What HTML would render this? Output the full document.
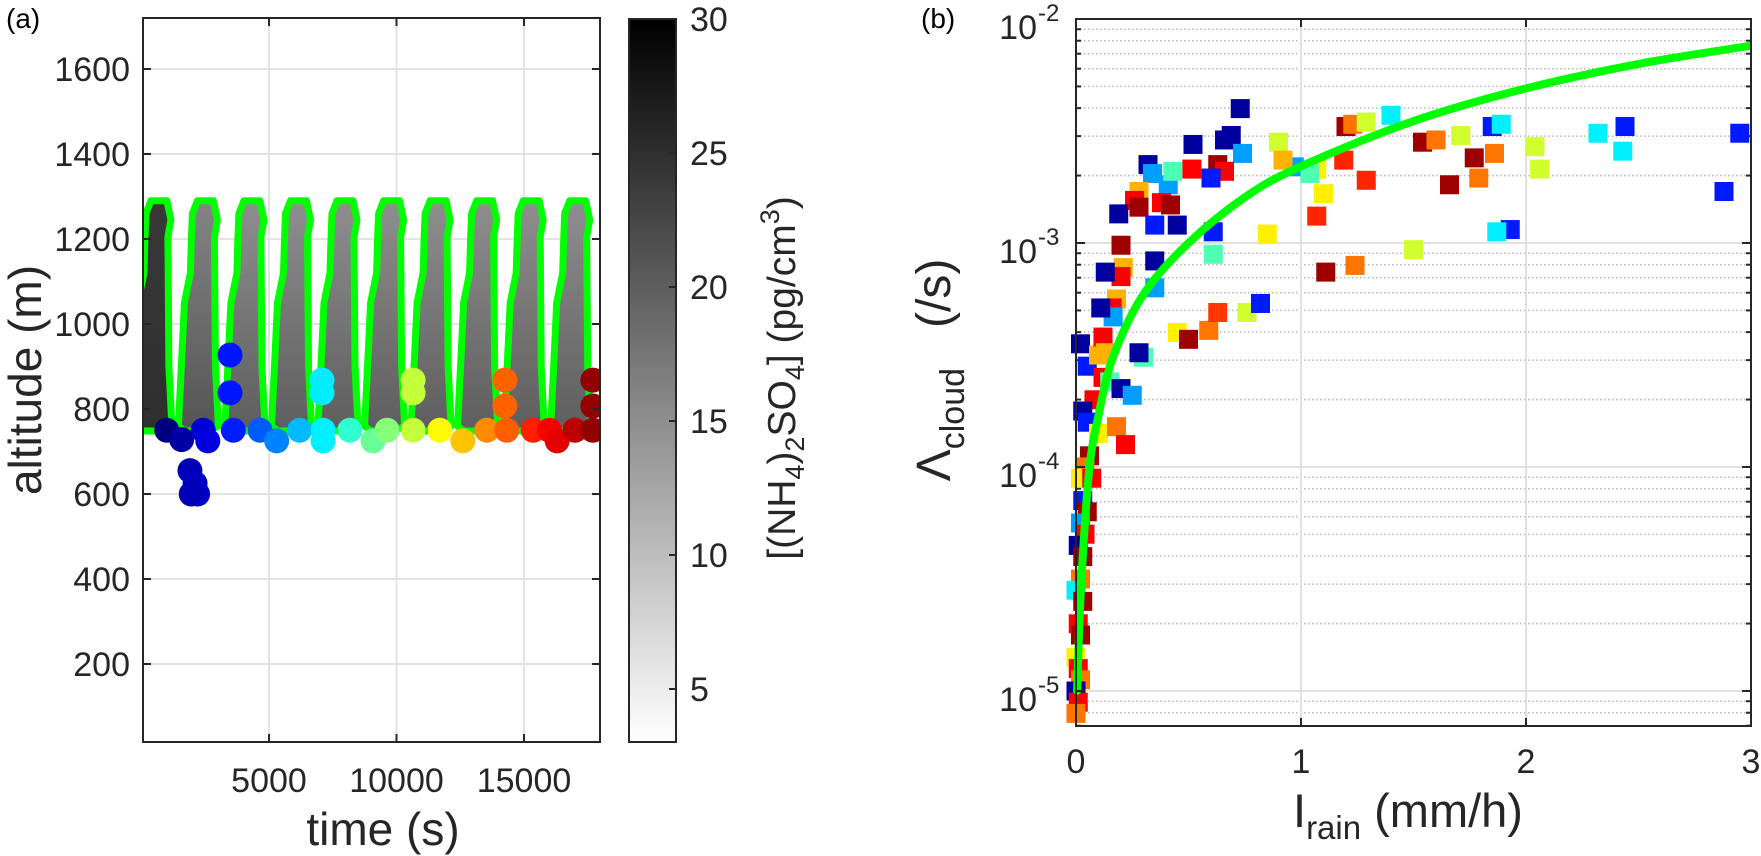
<!DOCTYPE html>
<html><head><meta charset="utf-8"><style>
html,body{margin:0;padding:0;background:#fff;}
svg{display:block;font-family:"Liberation Sans",Arial,sans-serif;}
</style></head><body>
<svg id="fig" width="1761" height="856" viewBox="0 0 1761 856" xmlns="http://www.w3.org/2000/svg">
<defs>
<clipPath id="clipA"><rect x="143" y="18" width="457" height="724"/></clipPath>
<clipPath id="clipB"><rect x="1066" y="19" width="685" height="717"/></clipPath>
<linearGradient id="cbGrad" x1="0" y1="1" x2="0" y2="0">
<stop offset="0" stop-color="#ffffff"/><stop offset="1" stop-color="#000000"/>
</linearGradient>
</defs>
<g id="layer"></g>
</svg>
<script>
// ---------- Panel (a) data ----------
const aXTicks = [5000, 10000, 15000];
const aYTicks = [200, 400, 600, 800, 1000, 1200, 1400, 1600];
const cycleStart = [250, 2075, 3900, 5725, 7550, 9375, 11200, 13025, 14850, 16675];
const cycleTopConc = [24, 16, 15, 15, 15, 15, 15, 15, 15, 15];
const cycleBotConc = [25, 21, 20, 20, 20, 20, 20, 20, 20, 20];
const cloudTop = 1290;
const cloudBase = 760;
const dotTime = [990,1575,2420,2600,3600,4650,5300,6200,7120,7120,8170,9080,9630,10650,11700,12600,13540,14320,15360,16000,16300,17000,17700,1900,2100,2200,1950,3470,3470,7080,7080,10650,10650,14250,14250,17700,17700];
const dotAlt  = [750,728,750,725,750,750,725,750,750,725,750,725,750,750,750,725,750,750,750,750,725,750,750,655,625,600,600,927,838,868,838,868,838,868,807,868,807];
const cbTicks = [5, 10, 15, 20, 25, 30];

// ---------- Panel (b) data ----------
const bXTicks = [0, 1, 2, 3];
const bYTickExp = [-5, -4, -3, -2];
const curveI = [0.005, 0.015, 0.03, 0.06, 0.1, 0.165, 0.3, 0.5, 0.75, 1.0, 1.5, 2.0, 2.5, 3.0];
const curveL = [1e-5, 2e-5, 4e-5, 1e-4, 1.7e-4, 3.1e-4, 5.9e-4, 1e-3, 1.6e-3, 2.2e-3, 3.5e-3, 4.9e-3, 6.3e-3, 7.6e-3];
const scatI = [
0.02,0.05,0.10,0.12,0.15,0.20,0.25,0.08,0.03,0.05,0.10,0.18,0.22,0.06,0.04,0.02,0.07,0.03,0.05,0.02,0.04,0.01,0.03,0.02,0.00,0.03,0.01,0.02,0.00,0.01,0.02,0.00,0.01,0.00,
0.73,0.69,0.66,0.52,0.74,0.515,0.63,0.66,0.60,0.32,0.34,0.41,0.43,0.28,0.26,0.28,0.38,0.42,0.19,0.35,0.45,0.61,0.61,0.35,0.35,0.20,0.21,0.20,0.13,0.18,0.16,0.165,0.11,0.12,0.13,0.30,0.28,0.45,0.50,0.59,0.63,0.76,0.82,
0.90,0.97,0.85,0.92,
1.20,1.23,1.29,1.40,1.07,1.19,1.29,1.10,1.07,1.54,1.60,1.71,1.85,1.89,1.77,1.86,1.79,1.66,1.93,1.87,1.50,1.24,1.11,2.04,2.06,2.32,2.44,2.43,2.95,2.88,1.04];
const scatLog10 = [
-3.45,-3.55,-3.50,-3.60,-3.62,-3.65,-3.68,-3.70,-3.75,-3.80,-3.85,-3.82,-3.90,-3.95,-4.00,-4.05,-4.05,-4.15,-4.20,-4.25,-4.30,-4.35,-4.40,-4.50,-4.55,-4.60,-4.70,-4.75,-4.85,-4.90,-4.95,-5.00,-5.05,-5.10,
-2.40,-2.52,-2.54,-2.56,-2.60,-2.67,-2.65,-2.68,-2.71,-2.65,-2.69,-2.74,-2.68,-2.77,-2.81,-2.84,-2.82,-2.83,-2.87,-2.92,-2.92,-2.95,-3.05,-3.08,-3.20,-3.01,-3.11,-3.15,-3.13,-3.25,-3.29,-3.33,-3.29,-3.42,-3.49,-3.51,-3.49,-3.40,-3.43,-3.39,-3.31,-3.31,-3.27,
-2.55,-2.66,-2.96,-2.63,
-2.48,-2.47,-2.46,-2.43,-2.67,-2.63,-2.72,-2.78,-2.88,-2.55,-2.54,-2.52,-2.48,-2.47,-2.62,-2.60,-2.71,-2.74,-2.94,-2.95,-3.03,-3.10,-3.13,-2.57,-2.67,-2.51,-2.48,-2.59,-2.51,-2.77,-2.69];
const scatColor = [
0.03,0.15,0.70,0.88,0.45,0.03,0.28,0.88,0.03,0.15,0.64,0.76,0.88,0.97,0.76,0.64,0.88,0.15,0.97,0.28,0.88,0.03,0.97,0.76,0.36,0.97,0.88,0.97,0.64,0.88,0.76,0.03,0.88,0.76,
0.03,0.03,0.03,0.03,0.28,0.88,0.97,0.88,0.15,0.03,0.28,0.28,0.45,0.70,0.88,0.97,0.88,0.97,0.03,0.15,0.03,0.15,0.45,0.03,0.28,0.97,0.70,0.88,0.03,0.70,0.88,0.28,0.03,0.88,0.70,0.45,0.03,0.64,0.97,0.76,0.82,0.58,0.15,
0.58,0.28,0.64,0.70,
0.97,0.76,0.58,0.36,0.64,0.84,0.84,0.64,0.84,0.97,0.76,0.58,0.15,0.36,0.97,0.76,0.76,0.97,0.15,0.36,0.58,0.76,0.97,0.58,0.58,0.36,0.15,0.36,0.15,0.15,0.45];

// ---------- helpers ----------
const NS = "http://www.w3.org/2000/svg";
const layer = document.getElementById("layer");
function mk(tag, attrs, parent) {
  const e = document.createElementNS(NS, tag);
  for (const k in attrs) e.setAttribute(k, attrs[k]);
  (parent || layer).appendChild(e);
  return e;
}
function jet(v) {
  const c = x => Math.max(0, Math.min(1, x));
  const r = c(1.5 - Math.abs(4 * v - 3)), g = c(1.5 - Math.abs(4 * v - 2)), b = c(1.5 - Math.abs(4 * v - 1));
  return "rgb(" + Math.round(r * 255) + "," + Math.round(g * 255) + "," + Math.round(b * 255) + ")";
}
const aL = 143, aR = 600, aT = 18, aB = 742;
const axA = t => 141.5 + t * 0.0255;
const ayA = alt => 664 - (alt - 200) * 0.425;
const cbL = 629, cbR = 676, cbT = 19, cbB = 742;
const cbY = c => 19 + (30 - c) * 26.8;
const grayOf = c => { const g = Math.round(255 * (1 - (c - 3) / 27)); return "rgb(" + g + "," + g + "," + g + ")"; };
const bL = 1076, bR = 1751, bT = 19, bB = 726;
const bx = I => 1076 + I * 225;
const byLog = lg => 19 + (-2 - lg) * 224;

// ================= Panel (a) =================
const defs = document.querySelector("defs");
aXTicks.forEach(t => {
  const l = mk("line", {x1: axA(t), x2: axA(t), y1: aT, y2: aB, stroke: "#e3e3e3", "stroke-width": 2});
  
  
});
aYTicks.forEach(v => {
  const l = mk("line", {x1: aL, x2: aR, y1: ayA(v), y2: ayA(v), stroke: "#e3e3e3", "stroke-width": 2});
  
  
});
const gA = mk("g", {"clip-path": "url(#clipA)"});


cycleStart.forEach((t0, k) => {
  const gid = "fg" + k;
  const lg = mk("linearGradient", {id: gid, x1: "0", y1: "0", x2: "0", y2: "1"}, defs);
  mk("stop", {offset: "0", "stop-color": grayOf(cycleTopConc[k])}, lg);
  mk("stop", {offset: "1", "stop-color": grayOf(cycleBotConc[k])}, lg);
  const x0 = axA(t0);
  const yt = ayA(cloudTop), yb = ayA(cloudBase);
  const pts = [
    [x0 - 2, ayA(cloudTop - 30)], [x0 + 3, yt], [x0 + 19, yt], [x0 + 23, ayA(cloudTop - 45)],
    [x0 + 20, ayA(cloudTop - 85)], [x0 + 21, ayA(900)], [x0 + 24, yb],
    [x0 + 14, yb + 5], [x0 - 10, yb + 5],
    [x0 - 16, yb], [x0 - 12, ayA(950)], [x0 - 10, ayA(1050)], [x0 - 4, ayA(1120)], [x0 - 3, ayA(1200)]
  ].map(p => p[0].toFixed(1) + "," + p[1].toFixed(1)).join(" ");
  const p = mk("polygon", {points: pts, fill: "url(#" + gid + ")", stroke: "#00ff00", "stroke-width": 7, "stroke-linejoin": "round"}, gA);
  
  
});
const gDots = mk("g", {"clip-path": "url(#clipA)"});


dotTime.forEach((t, i) => {
  const c = mk("circle", {cx: axA(t), cy: ayA(dotAlt[i]), r: 12.5, fill: jet((t - 1000) / 17000)}, gDots);
  
  
});
const boxA = mk("rect", {x: aL, y: aT, width: aR - aL, height: aB - aT, fill: "none", stroke: "#262626", "stroke-width": 2});


aXTicks.forEach(t => {
  const x = axA(t);
  mk("line", {x1: x, x2: x, y1: aB, y2: aB - 8, stroke: "#262626", "stroke-width": 2});
  mk("line", {x1: x, x2: x, y1: aT, y2: aT + 8, stroke: "#262626", "stroke-width": 2});
  const tx = mk("text", {x: x, y: 792, "font-size": 34, "text-anchor": "middle", fill: "#262626"});
  tx.textContent = t;
  
  
});
aYTicks.forEach(v => {
  const y = ayA(v);
  mk("line", {x1: aL, x2: aL + 8, y1: y, y2: y, stroke: "#262626", "stroke-width": 2});
  mk("line", {x1: aR, x2: aR - 8, y1: y, y2: y, stroke: "#262626", "stroke-width": 2});
  const tx = mk("text", {x: 130, y: y + 12, "font-size": 34, "text-anchor": "end", fill: "#262626"});
  tx.textContent = v;
  
  
});
const xtA = mk("text", {x: 383, y: 845, "font-size": 46, "text-anchor": "middle", fill: "#262626"});
xtA.textContent = "time (s)";


const ytA = mk("text", {x: 0, y: 0, "font-size": 46, "text-anchor": "middle", fill: "#262626", transform: "translate(41,380) rotate(-90)"});
ytA.textContent = "altitude (m)";


const labA = mk("text", {x: 6, y: 28, "font-size": 28, fill: "#000"});
labA.textContent = "(a)";


const cb = mk("rect", {x: cbL, y: cbT, width: cbR - cbL, height: cbB - cbT, fill: "url(#cbGrad)", stroke: "#262626", "stroke-width": 2});


cbTicks.forEach(c => {
  const y = cbY(c);
  mk("line", {x1: cbR, x2: cbR - 7, y1: y, y2: y, stroke: "#262626", "stroke-width": 2});
  const tx = mk("text", {x: 690, y: y + 12, "font-size": 34, fill: "#262626"});
  tx.textContent = c;
  
  
});
const cbt = mk("text", {x: 0, y: 0, "font-size": 39, "text-anchor": "middle", fill: "#262626", transform: "translate(795,378) rotate(-90)"});


cbt.innerHTML = '[(NH<tspan font-size="27" dy="9">4</tspan><tspan dy="-9">)</tspan><tspan font-size="27" dy="9">2</tspan><tspan dy="-9">SO</tspan><tspan font-size="27" dy="9">4</tspan><tspan dy="-9">] (pg/cm</tspan><tspan font-size="27" dy="-16">3</tspan><tspan dy="16">)</tspan>';

// ================= Panel (b) =================
for (let k = -6; k <= -3; k++) {
  for (let m = 2; m <= 9; m++) {
    const lg = k + Math.log10(m);
    if (lg <= -5.156 || lg >= -2) continue;
    const y = byLog(lg);
    const l = mk("line", {x1: bL, x2: bR, y1: y, y2: y, stroke: "#b8b8b8", "stroke-width": 1.5, "stroke-dasharray": "1.5,2.5"});
    
    
    mk("line", {x1: bL, x2: bL + 5, y1: y, y2: y, stroke: "#262626", "stroke-width": 2});
    mk("line", {x1: bR, x2: bR - 5, y1: y, y2: y, stroke: "#262626", "stroke-width": 2});
  }
}
bYTickExp.forEach(e => {
  const y = byLog(e);
  const l = mk("line", {x1: bL, x2: bR, y1: y, y2: y, stroke: "#e0e0e0", "stroke-width": 2});
  
  
});
bXTicks.forEach(I => {
  if (I === 0 || I === 3) return;
  const l = mk("line", {x1: bx(I), x2: bx(I), y1: bT, y2: bB, stroke: "#e0e0e0", "stroke-width": 2});
  
  
});
const gS = mk("g", {"clip-path": "url(#clipB)"});


scatI.forEach((I, i) => {
  const s = 19;
  const r = mk("rect", {x: bx(I) - s / 2, y: byLog(scatLog10[i]) - s / 2, width: s, height: s, fill: jet(scatColor[i])}, gS);
  
  
});
const cp = curveI.map((I, i) => [bx(I), byLog(Math.log10(curveL[i]))]);
let d = "M" + cp[0][0].toFixed(1) + "," + cp[0][1].toFixed(1);
for (let i = 0; i < cp.length - 1; i++) {
  const p0 = cp[Math.max(0, i - 1)], p1 = cp[i], p2 = cp[i + 1], p3 = cp[Math.min(cp.length - 1, i + 2)];
  const c1 = [p1[0] + (p2[0] - p0[0]) / 6, p1[1] + (p2[1] - p0[1]) / 6];
  const c2 = [p2[0] - (p3[0] - p1[0]) / 6, p2[1] - (p3[1] - p1[1]) / 6];
  d += " C" + c1[0].toFixed(1) + "," + c1[1].toFixed(1) + " " + c2[0].toFixed(1) + "," + c2[1].toFixed(1) + " " + p2[0].toFixed(1) + "," + p2[1].toFixed(1);
}
const curve = mk("path", {d: d, fill: "none", stroke: "#00ff00", "stroke-width": 8, "stroke-linejoin": "round", "stroke-linecap": "round", "clip-path": "url(#clipB)"});


const boxB = mk("rect", {x: bL, y: bT, width: bR - bL, height: bB - bT, fill: "none", stroke: "#262626", "stroke-width": 2});


bXTicks.forEach(I => {
  const x = bx(I);
  mk("line", {x1: x, x2: x, y1: bB, y2: bB - 8, stroke: "#262626", "stroke-width": 2});
  mk("line", {x1: x, x2: x, y1: bT, y2: bT + 8, stroke: "#262626", "stroke-width": 2});
  const tx = mk("text", {x: x, y: 773, "font-size": 34, "text-anchor": "middle", fill: "#262626"});
  tx.textContent = I;
  
  
});
bYTickExp.forEach(e => {
  const y = byLog(e);
  mk("line", {x1: bL, x2: bL + 9, y1: y, y2: y, stroke: "#262626", "stroke-width": 2});
  mk("line", {x1: bR, x2: bR - 9, y1: y, y2: y, stroke: "#262626", "stroke-width": 2});
  const tx = mk("text", {x: 1037, y: y + 20, "font-size": 34, "text-anchor": "end", fill: "#262626"});
  tx.textContent = "10";
  
  
  const sp = mk("text", {x: 1038, y: y + 2, "font-size": 24, fill: "#262626"});
  sp.textContent = e;
  
  
});
const xtB = mk("text", {x: 1293, y: 827, "font-size": 47, fill: "#262626"});


xtB.innerHTML = 'I<tspan font-size="33" dy="12">rain</tspan><tspan dy="-12"> (mm/h)</tspan>';
const ytB = mk("text", {x: 0, y: 0, "font-size": 48, "text-anchor": "middle", fill: "#262626", transform: "translate(950,370) rotate(-90)"});


ytB.innerHTML = 'Λ<tspan font-size="34" dy="14">cloud</tspan><tspan dy="-14" xml:space="preserve">   (/s)</tspan>';
const labB = mk("text", {x: 921, y: 28, "font-size": 28, fill: "#000"});
labB.textContent = "(b)";


</script>
</body></html>
